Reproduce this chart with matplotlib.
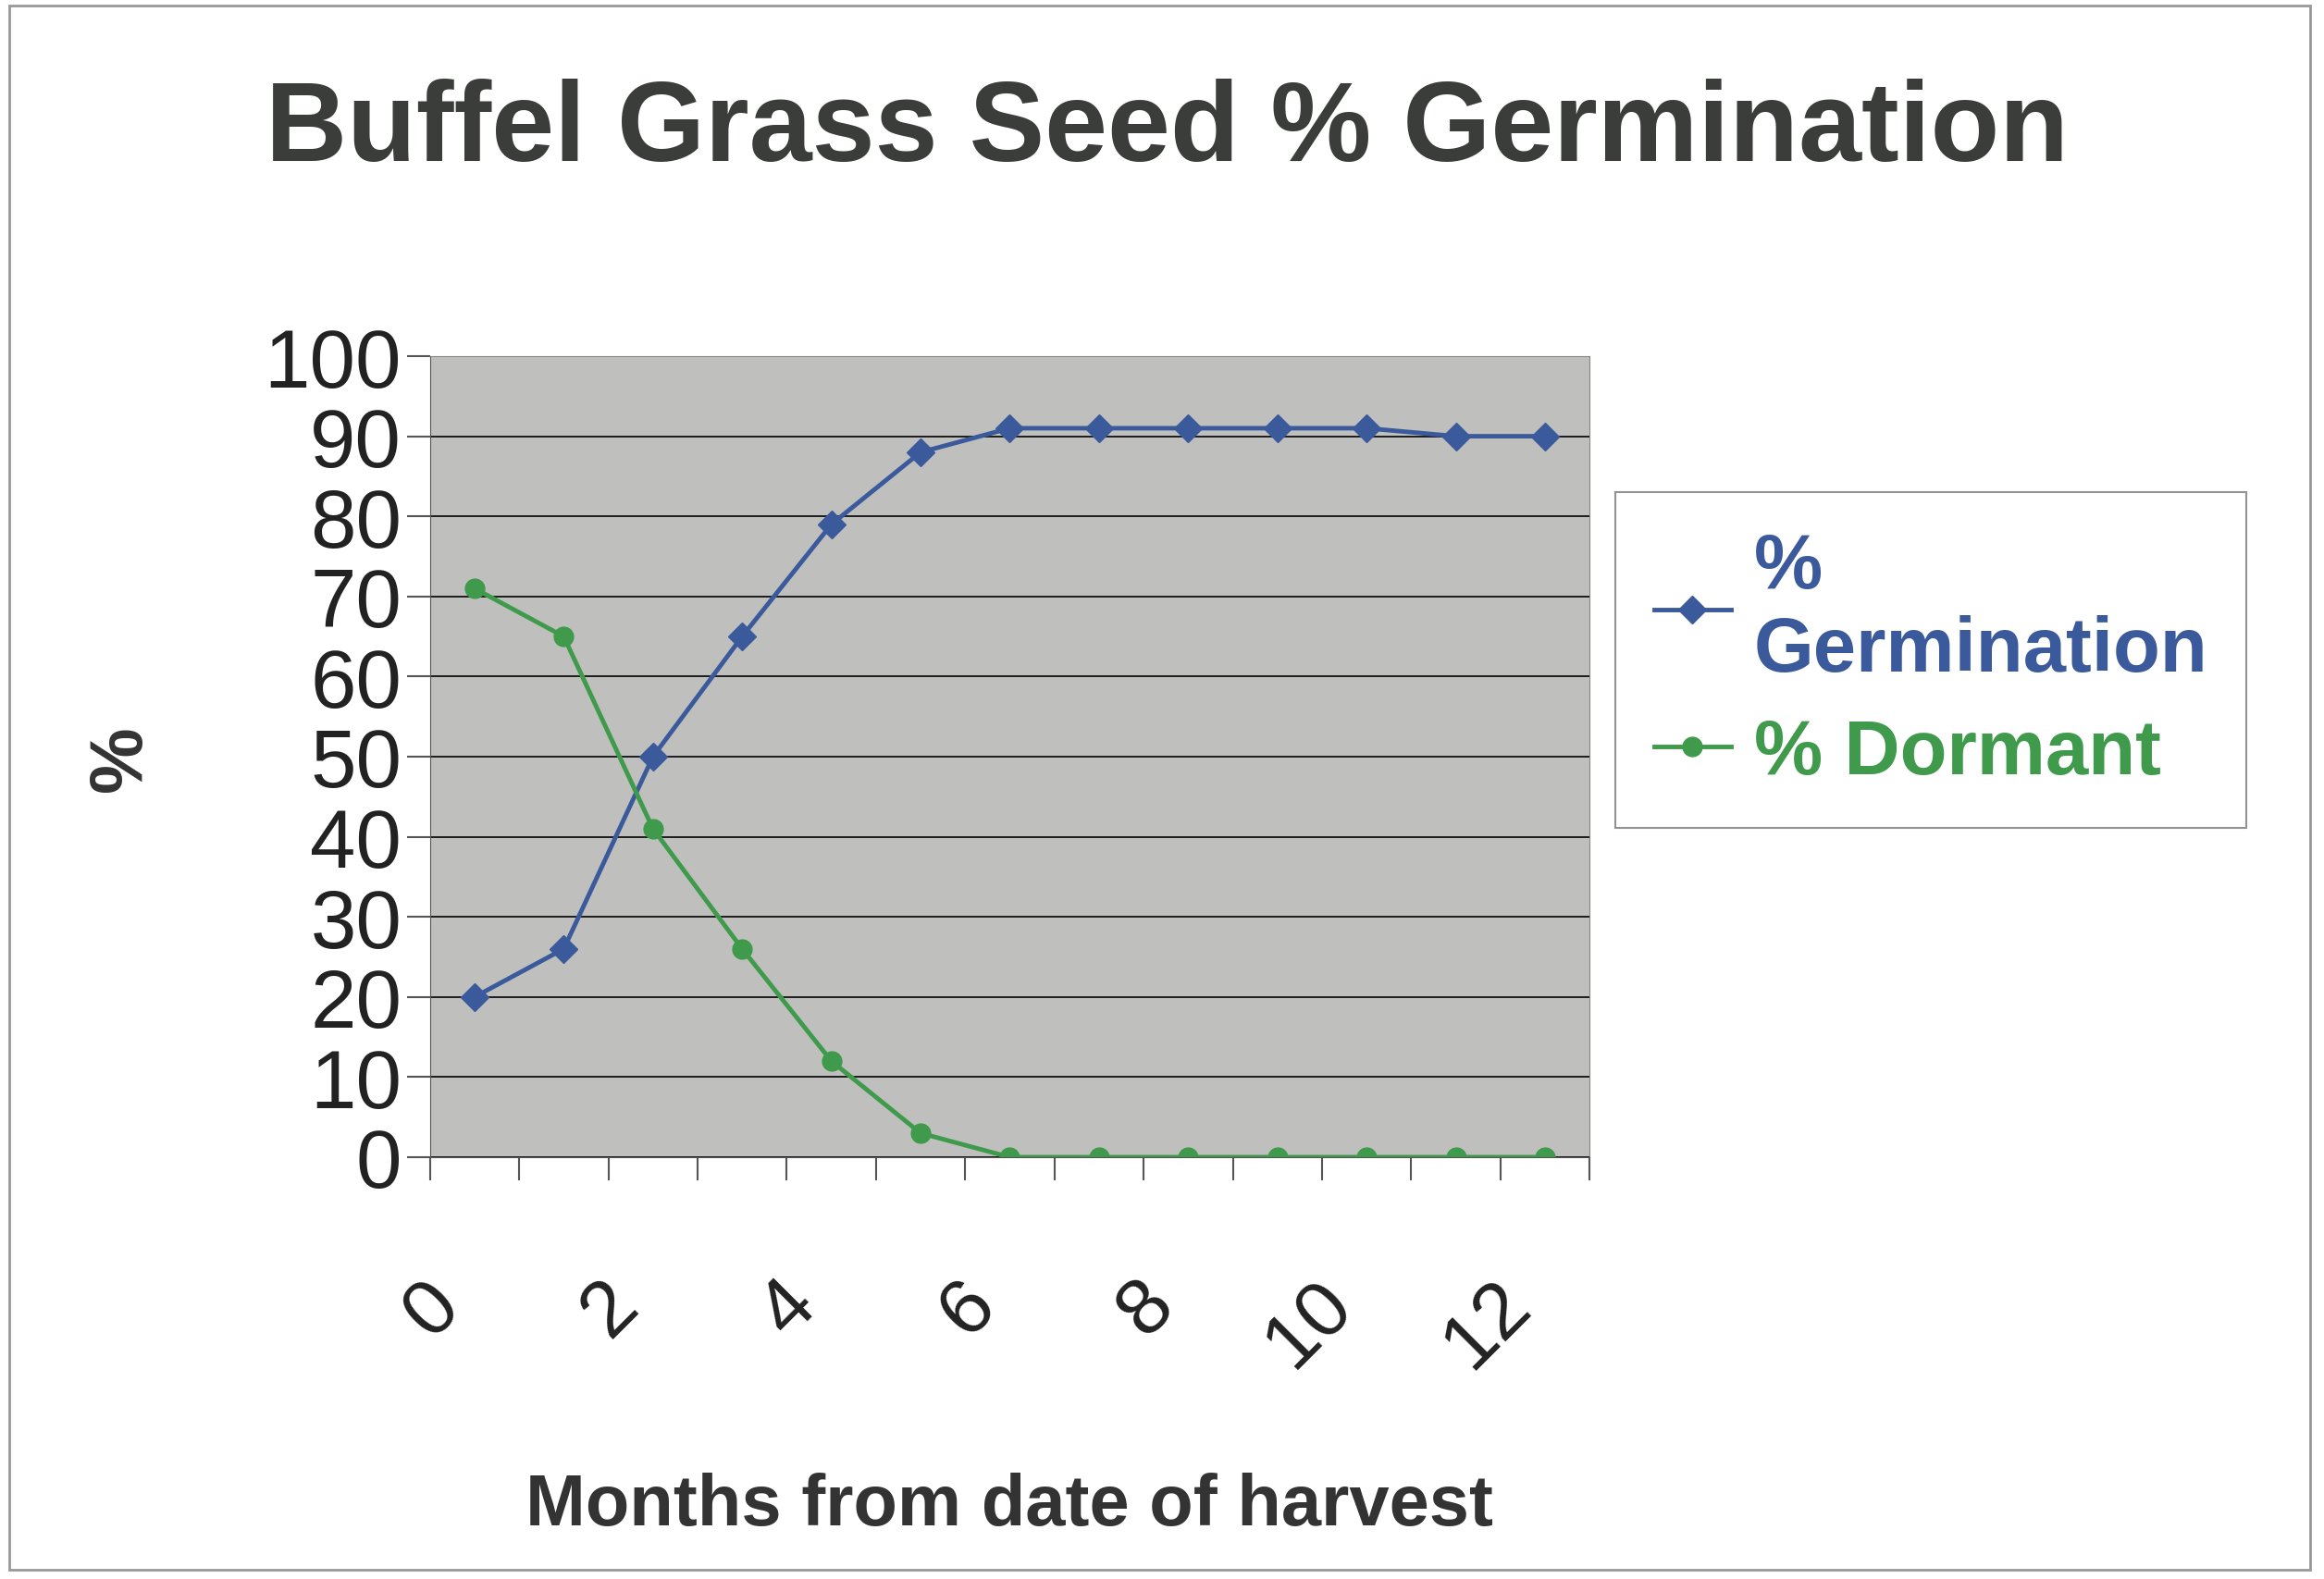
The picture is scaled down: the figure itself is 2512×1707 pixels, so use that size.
import matplotlib
matplotlib.use('Agg')
import matplotlib.pyplot as plt
import numpy as np

months = list(range(13))
germination = [20, 26, 50, 65, 79, 88, 91, 91, 91, 91, 91, 90, 90]
dormant = [71, 65, 41, 26, 12, 3, 0, 0, 0, 0, 0, 0, 0]
tick_labels = ['0', '2', '4', '6', '8', '10', '12']

plt.rcParams['font.family'] = 'Liberation Sans'

fig = plt.figure(figsize=(25.12, 17.08), dpi=100)
fig.patch.set_facecolor('white')
fig.add_artist(plt.Rectangle((0.004, 0.006), 0.99, 0.99, transform=fig.transFigure,
                             fill=False, edgecolor='#999999', lw=2))

ax = fig.add_axes([0.185, 0.267, 0.499, 0.507], facecolor='#bfc0bd')
x = np.arange(len(months)) + 0.5
blue = '#3b5a9c'
green = '#3f9a4b'
ax.plot(x, germination, color=blue, lw=3.5, marker='D', ms=15, label='%\nGermination')
ax.plot(x, dormant, color=green, lw=3.5, marker='o', ms=15, label='% Dormant')

ax.set_xlim(0, 13)
ax.set_ylim(0, 100)
ax.set_yticks(range(0, 101, 10))
ax.yaxis.grid(True, color='black', lw=1.2)
ax.set_axisbelow(True)
ax.set_xticks(range(14))
ax.set_xticklabels([])
ax.set_xticks(x[::2], minor=True)
ax.set_xticklabels(tick_labels, minor=True, rotation=45, ha='right', va='top',
                   fontsize=62, color='#222222')
ax.tick_params(axis='x', which='minor', length=0, pad=85)
ax.tick_params(axis='x', which='major', length=18, width=1.5, color='#555555')
ax.tick_params(axis='y', labelsize=64, length=18, width=1.5, color='#555555', labelcolor='#222222', pad=4)
for s in ['top', 'right']:
    ax.spines[s].set_color('#888888')
ax.spines['left'].set_color('#555555')
ax.spines['bottom'].set_color('#555555')

ax.set_xlabel('Months from date of harvest', fontsize=56, fontweight='bold', color='#333333', labelpad=70)
fig.text(0.052, 0.52, '%', rotation=90, fontsize=58, fontweight='bold', color='#333333',
         ha='center', va='center')
fig.text(0.502, 0.917, 'Buffel Grass Seed % Germination', fontsize=88, fontweight='bold',
         color='#3a3d3a', ha='center', va='center')

leg = fig.legend(loc='upper left', bbox_to_anchor=(0.695, 0.688), fontsize=60,
                 frameon=True, fancybox=False, handlelength=1.0, borderpad=0.5,
                 labelspacing=0.4, handletextpad=0.3, borderaxespad=0)
leg.get_frame().set_edgecolor('#777777')
leg.get_frame().set_linewidth(1.5)
for t, c in zip(leg.get_texts(), [blue, green]):
    t.set_color(c)
    t.set_fontweight('bold')

fig.savefig('out.png', dpi=100)
